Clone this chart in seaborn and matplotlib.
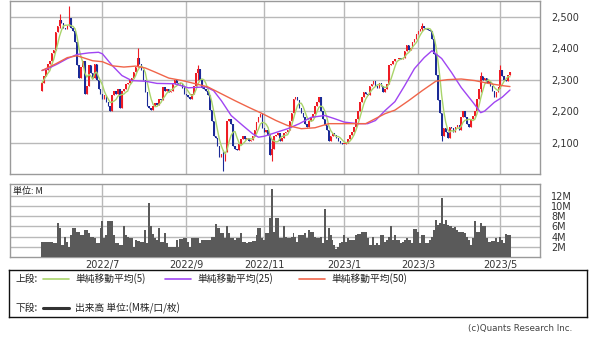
import numpy as np
import pandas as pd
import matplotlib
matplotlib.use("Agg")
import matplotlib.pyplot as plt
import seaborn as sns

# ---------------- data ----------------
# daily closing prices (trading-day index 0 = mid May 2022)
closes = [
    2290, 2310, 2330, 2350, 2360, 2385, 2395, 2450, 2470, 2490,
    2480, 2465, 2460, 2470, 2495, 2465, 2455, 2420, 2345, 2305,
    2340, 2360, 2255, 2280, 2345, 2320, 2305, 2350, 2300, 2270,
    2255, 2240, 2250, 2230, 2215, 2200, 2250, 2265, 2255, 2270,
    2210, 2265, 2270, 2285, 2290, 2300, 2305, 2325, 2340, 2370,
    2350, 2330, 2300, 2260, 2215, 2210, 2205, 2215, 2225, 2220,
    2240, 2235, 2275, 2265, 2270, 2260, 2265, 2285, 2300, 2290,
    2285, 2290, 2275, 2255, 2250, 2245, 2240, 2255, 2280, 2320,
    2335, 2300, 2275, 2270, 2265, 2250, 2205, 2170, 2120, 2115,
    2090, 2055, 2065, 2040, 2070, 2170, 2175, 2160, 2090, 2080,
    2075, 2095, 2110, 2120, 2110, 2115, 2105, 2108, 2120, 2140,
    2165, 2180, 2190, 2145, 2135, 2140, 2125, 2060, 2080, 2120,
    2125, 2130, 2105, 2115, 2130, 2135, 2140, 2170, 2195, 2240,
    2245, 2235, 2210, 2195, 2180, 2160, 2150, 2170, 2180, 2190,
    2215, 2230, 2245, 2200, 2175, 2155, 2140, 2105, 2120, 2130,
    2125, 2115, 2105, 2100, 2095, 2095, 2100, 2110, 2125, 2135,
    2150, 2175, 2200, 2230, 2245, 2260, 2255, 2250, 2280, 2285,
    2295, 2280, 2275, 2290, 2280, 2260, 2270, 2285, 2345, 2350,
    2360, 2365, 2365, 2370, 2365, 2370, 2390, 2410, 2395, 2400,
    2420, 2430, 2445, 2455, 2460, 2470, 2465, 2460, 2458, 2455,
    2430, 2380, 2315, 2235, 2195, 2120, 2145, 2135, 2115, 2150,
    2145, 2135, 2150, 2155, 2140, 2180, 2200, 2180, 2160, 2150,
    2175, 2185, 2200, 2240, 2270, 2310, 2300, 2305, 2290, 2295,
    2280, 2265, 2245, 2260, 2275, 2330, 2310, 2300, 2295, 2315,
    2325,
]
first_open = 2265

# daily volume, millions
volumes = [
    2.9, 2.9, 2.9, 2.9, 3.0, 3.0, 2.7, 2.7, 6.7, 5.7,
    2.3, 2.3, 4.0, 3.0, 2.0, 4.3, 5.7, 5.7, 5.0, 5.0,
    4.3, 4.3, 5.3, 5.3, 4.7, 4.0, 4.0, 3.7, 2.7, 2.7,
    5.7, 7.0, 3.7, 4.3, 7.1, 7.1, 7.1, 4.3, 2.7, 2.7,
    2.3, 2.3, 6.0, 4.3, 4.0, 3.7, 3.7, 2.0, 3.3, 3.1,
    3.1, 3.0, 3.0, 5.3, 2.7, 10.7, 6.0, 4.5, 3.7, 3.3,
    5.7, 3.0, 3.0, 4.7, 2.7, 2.0, 2.0, 2.0, 2.0, 3.3,
    2.0, 3.5, 3.5, 3.8, 3.8, 3.0, 2.0, 3.7, 3.7, 3.7,
    3.7, 2.7, 3.3, 3.3, 3.3, 3.3, 3.3, 4.0, 4.0, 6.5,
    5.7, 5.7, 4.7, 4.7, 3.7, 6.0, 4.7, 3.7, 3.7, 3.3,
    3.7, 3.7, 4.7, 3.0, 3.0, 2.7, 3.0, 3.0, 3.1, 3.1,
    4.3, 5.7, 5.7, 3.7, 3.3, 4.7, 4.7, 7.7, 13.3, 5.0,
    7.7, 7.7, 3.7, 3.7, 6.0, 4.0, 3.8, 3.8, 4.0, 4.7,
    4.0, 3.0, 4.3, 4.3, 4.3, 4.7, 3.7, 5.3, 5.0, 5.0,
    4.0, 3.7, 3.7, 4.0, 2.7, 9.5, 3.3, 5.7, 4.3, 3.3,
    2.3, 1.5, 2.0, 2.7, 3.0, 4.3, 3.0, 3.7, 3.3, 3.3,
    3.3, 4.3, 4.5, 4.5, 5.0, 5.0, 5.0, 3.7, 2.3, 2.3,
    4.0, 2.3, 2.7, 2.3, 4.3, 4.3, 3.0, 3.3, 4.0, 6.0,
    3.3, 4.3, 3.3, 3.3, 2.7, 3.0, 3.3, 3.7, 3.3, 3.3,
    2.7, 5.5, 5.5, 5.0, 2.7, 4.3, 4.3, 2.7, 2.7, 3.3,
    4.0, 5.3, 7.3, 6.3, 6.7, 11.5, 6.5, 7.3, 6.3, 6.0,
    6.0, 5.7, 5.8, 5.3, 5.0, 5.0, 5.0, 4.7, 4.0, 3.3,
    2.3, 3.7, 7.0, 5.0, 5.0, 6.7, 6.0, 6.0, 3.7, 3.0,
    2.9, 3.1, 3.1, 3.7, 3.0, 4.0, 3.3, 2.7, 4.5, 4.3,
    4.3,
]

# notable shadows (wicks)
wick_day = [9, 14, 49, 80, 93, 118, 195, 205, 225, 235]
wick_high = [2510, 2535, 2400, 2345, 2075, 2110, 2480, 2170, 2325, 2345]
wick_low = [2465, 2470, 2340, 2300, 2010, 2040, 2455, 2105, 2260, 2290]

# 25-day and 50-day simple moving averages
ma25_day = [0, 3, 8, 13, 18, 24, 29, 31, 36, 41, 46, 53, 59, 68, 75, 84, 88,
            92, 97, 103, 108, 111, 114, 119, 126, 132, 138, 145, 150, 155,
            162, 167, 171, 176, 181, 186, 191, 196, 200, 205, 210, 215, 221,
            225, 227, 232, 236, 240]
ma25_val = [2329, 2335, 2350, 2367, 2380, 2385, 2387, 2382, 2345, 2313, 2297,
            2295, 2288, 2287, 2274, 2277, 2265, 2233, 2186, 2154, 2128, 2117,
            2120, 2130, 2144, 2160, 2180, 2186, 2176, 2165, 2160, 2160, 2170,
            2202, 2230, 2281, 2335, 2370, 2392, 2367, 2323, 2275, 2228, 2195,
            2200, 2228, 2244, 2267]
ma50_day = [0, 7, 13, 18, 26, 31, 36, 42, 48, 53, 58, 65, 72, 78, 85, 92, 99,
            106, 113, 120, 126, 133, 140, 147, 154, 160, 166, 171, 176, 181,
            188, 195, 202, 208, 215, 222, 229, 236, 240]
ma50_val = [2329, 2350, 2370, 2376, 2360, 2357, 2344, 2340, 2343, 2337, 2324,
            2305, 2297, 2288, 2277, 2255, 2233, 2212, 2192, 2170, 2154, 2144,
            2147, 2160, 2160, 2160, 2160, 2176, 2192, 2203, 2233, 2265, 2295,
            2300, 2302, 2297, 2288, 2281, 2278]

month_pos = [31, 74, 114, 155, 193, 235]
month_labels = ["2022/7", "2022/9", "2022/11", "2023/1", "2023/3", "2023/5"]
price_ticks = [2100, 2200, 2300, 2400, 2500]
price_labels = ["2,100", "2,200", "2,300", "2,400", "2,500"]
vol_ticks = [2, 4, 6, 8, 10, 12]
vol_labels = ["2M", "4M", "6M", "8M", "10M", "12M"]

legend_labels = ["単純移動平均(5)", "単純移動平均(25)", "単純移動平均(50)"]

# ---------------- styling ----------------
sns.set_theme(style="white")
plt.rcParams["font.family"] = ["Noto Sans CJK JP", "DejaVu Sans"]

UP = "#ee1c24"
DOWN = "#1b2a96"
C_MA5 = "#a9d46b"
C_MA25 = "#a045f2"
C_MA50 = "#f0654a"
GRID = "#b9b9b9"
VOLC = "#5a5a5a"

df = pd.DataFrame({"day": np.arange(len(closes)), "close": closes, "volume": volumes})
df["open"] = df["close"].shift(1).fillna(first_open)
df["ma5"] = df["close"].rolling(5, min_periods=1).mean()
df["top"] = df[["open", "close"]].max(axis=1)
df["bot"] = df[["open", "close"]].min(axis=1)
df["up"] = df["close"] >= df["open"]
df["high"] = df["top"]
df["low"] = df["bot"]
for d, h, l in zip(wick_day, wick_high, wick_low):
    df.loc[d, "high"] = max(h, df.loc[d, "top"])
    df.loc[d, "low"] = min(l, df.loc[d, "bot"])

fig = plt.figure(figsize=(6, 3.4), dpi=100)
ax = fig.add_axes([10 / 600, 1 - 174 / 340, 530 / 600, 173 / 340])
axv = fig.add_axes([10 / 600, 1 - 257 / 340, 530 / 600, 73 / 340])

xlim = (-16.4, 255.4)

def style_axes(a):
    a.set_xlim(*xlim)
    a.set_xticks(month_pos)
    a.grid(True, color=GRID, linewidth=1.0)
    a.set_axisbelow(True)
    for s in a.spines.values():
        s.set_color("#9a9a9a")
        s.set_linewidth(1.0)
    a.yaxis.tick_right()
    a.tick_params(axis="both", length=0, colors="#333333")

# ---- price panel ----
style_axes(ax)
ax.set_ylim(2000, 2550)
ax.set_yticks(price_ticks)
ax.set_yticklabels(price_labels, fontsize=7, family="DejaVu Sans")
ax.tick_params(axis="y", pad=8)
ax.set_xticklabels([])

colors = np.where(df["up"], UP, DOWN)
ax.vlines(df["day"], df["low"], df["high"], colors=colors, linewidth=0.8, zorder=3)
heights = np.maximum(df["top"] - df["bot"], 2)
ax.bar(df["day"], heights, bottom=df["bot"], width=0.75, color=colors,
       linewidth=0, zorder=3)

sns.lineplot(x=df["day"], y=df["ma5"], ax=ax, color=C_MA5, linewidth=1.0, zorder=4)
sns.lineplot(x=ma25_day, y=ma25_val, ax=ax, color=C_MA25, linewidth=1.0, zorder=4)
sns.lineplot(x=ma50_day, y=ma50_val, ax=ax, color=C_MA50, linewidth=1.0, zorder=4)
ax.set_xlabel("")
ax.set_ylabel("")

# ---- volume panel ----
style_axes(axv)
axv.set_ylim(0, 14.35)
axv.set_yticks(vol_ticks)
axv.set_yticklabels(vol_labels, fontsize=7, family="DejaVu Sans")
axv.tick_params(axis="y", pad=8)
axv.set_xticklabels(month_labels, fontsize=7, family="DejaVu Sans")
axv.tick_params(axis="x", pad=2)
axv.bar(df["day"], df["volume"], width=1.0, color=VOLC, linewidth=0, zorder=3)
axv.text(0.006, 0.96, "単位: M", transform=axv.transAxes, ha="left", va="top",
         fontsize=6.5, color="#222222")

# ---- legend box ----
axl = fig.add_axes([9 / 600, 1 - 317 / 340, 578 / 600, 47 / 340])
axl.set_xlim(0, 578)
axl.set_ylim(47, 0)
axl.set_xticks([])
axl.set_yticks([])
for s in axl.spines.values():
    s.set_color("#111111")
    s.set_linewidth(1.0)
axl.set_facecolor("white")
fs = 7
axl.text(6, 9, "上段:", fontsize=fs, va="center", ha="left", color="#222222")
for (x0, x1, tx), c, lab in zip([(34, 60, 66), (156, 182, 188), (290, 316, 322)],
                                 [C_MA5, C_MA25, C_MA50], legend_labels):
    axl.plot([x0, x1], [9, 9], color=c, linewidth=1.2)
    axl.text(tx, 9, lab, fontsize=fs, va="center", ha="left", color="#222222")
axl.text(6, 38, "下段:", fontsize=fs, va="center", ha="left", color="#222222")
axl.plot([34, 60], [38, 38], color="#333333", linewidth=2.2)
axl.text(66, 38, "出来高 単位:(M株/口/枚)", fontsize=fs, va="center", ha="left",
         color="#222222")

fig.text(572 / 600, 1 - 328 / 340, "(c)Quants Research Inc.", ha="right",
         va="center", fontsize=6.3, color="#444444", family="DejaVu Sans")

fig.savefig("out.png", dpi=100, facecolor="white")
